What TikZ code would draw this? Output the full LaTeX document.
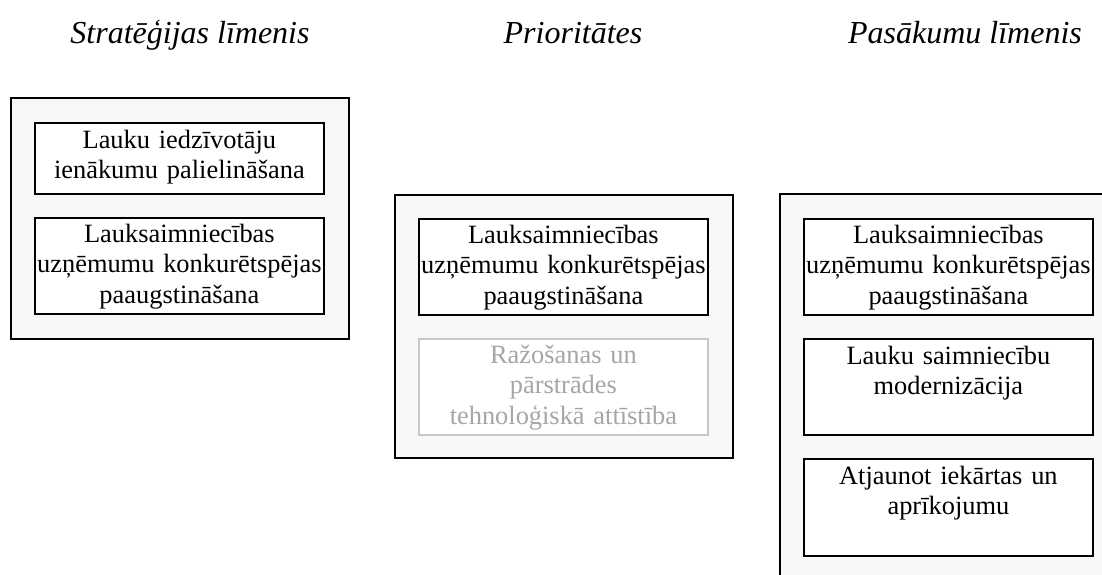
\documentclass[tikz,border=0pt]{standalone}
\usepackage{fontspec}
\setmainfont{Liberation Serif}
\begin{document}
\begin{tikzpicture}[x=1pt,y=-1pt,
  group/.style={draw=black,line width=1.8pt,fill=black!3},
  itembox/.style={draw=black,line width=1.8pt,fill=white,minimum width=289pt,inner sep=0pt},
  fadedbox/.style={draw=black!22,line width=1.8pt,fill=white,minimum width=289pt,inner sep=0pt},
  itemtext/.style={anchor=base,text width=330pt,align=center,inner sep=0pt,
    font=\fontsize{26.4}{30.5}\selectfont},
  fadedtext/.style={itemtext,text=black!35},
  heading/.style={anchor=base,inner sep=0pt,font=\fontsize{32}{36}\selectfont\itshape}]
\useasboundingbox (0,0) rectangle (1102,574);
\clip (0,0) rectangle (1102,574);

% column headings
\node[heading] (h1) at (190,43) {Stratēģijas līmenis};
\node[heading] (h2) at (573,43) {Prioritātes};
\node[heading] (h3) at (965,43) {Pasākumu līmenis};

% group frames
\node[group,minimum width=338pt,minimum height=241pt,anchor=north west,inner sep=0pt] (gs) at (10,97) {};
\node[group,minimum width=338pt,minimum height=263pt,anchor=north west,inner sep=0pt] (gp) at (394,194) {};
\node[group,minimum width=360pt,minimum height=420pt,anchor=north west,inner sep=0pt] (ga) at (779,193) {};

% strategy level
\node[itembox,minimum height=71pt,anchor=north west] (s1) at (34,122) {};
\node[itemtext] (s1t) at ([yshift=-26pt]s1.north) {Lauku iedzīvotāju\\ienākumu palielināšana};
\node[itembox,minimum height=96pt,anchor=north west] (s2) at (34,217) {};
\node[itemtext] (s2t) at ([yshift=-25pt]s2.north) {Lauksaimniecības\\uzņēmumu konkurētspējas\\paaugstināšana};

% priorities
\node[itembox,minimum height=96pt,anchor=north west] (p1) at (418,218) {};
\node[itemtext] (p1t) at ([yshift=-25pt]p1.north) {Lauksaimniecības\\uzņēmumu konkurētspējas\\paaugstināšana};
\node[fadedbox,minimum height=96pt,anchor=north west] (p2) at (418,338) {};
\node[fadedtext] (p2t) at ([yshift=-25pt]p2.north) {Ražošanas un\\pārstrādes\\tehnoloģiskā attīstība};

% measure level
\node[itembox,minimum height=96pt,anchor=north west] (a1) at (803,218) {};
\node[itemtext] (a1t) at ([yshift=-25pt]a1.north) {Lauksaimniecības\\uzņēmumu konkurētspējas\\paaugstināšana};
\node[itembox,minimum height=96pt,anchor=north west] (a2) at (803,338) {};
\node[itemtext] (a2t) at ([yshift=-26pt]a2.north) {Lauku saimniecību\\modernizācija};
\node[itembox,minimum height=97pt,anchor=north west] (a3) at (803,458) {};
\node[itemtext] (a3t) at ([yshift=-26pt]a3.north) {Atjaunot iekārtas un\\aprīkojumu};
\end{tikzpicture}
\end{document}
